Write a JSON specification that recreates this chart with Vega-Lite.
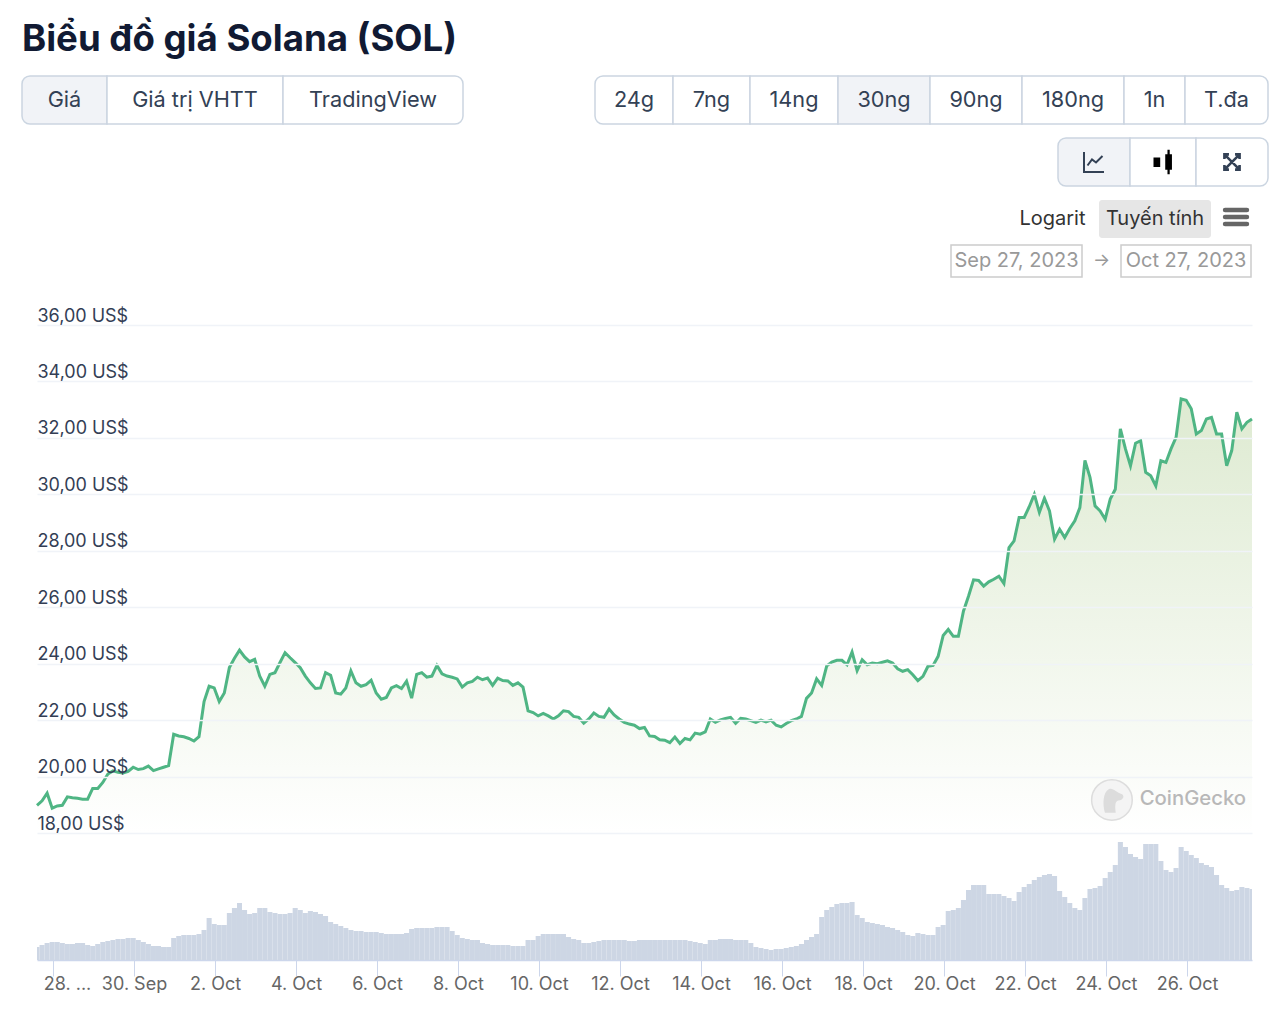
{"$schema":"https://vega.github.io/schema/vega-lite/v6.json","padding":{"left":21,"top":21,"right":0,"bottom":0},"background":"#ffffff","config":{"font":"Inter","view":{"stroke":null},"concat":{"spacing":0}},"title":{"text":"Biểu đồ giá Solana (SOL)","anchor":"start","frame":"group","fontSize":36.6,"fontWeight":700,"color":"#111a33","font":"Inter","offset":17},"spacing":0,"datasets":{"sol":[
{"t":"2023-09-27T14:30Z","p":18.98,"v":13},{"t":"2023-09-27T17:30Z","p":19.14,"v":15},{"t":"2023-09-27T20:30Z","p":19.41,"v":17},{"t":"2023-09-27T23:30Z","p":18.88,"v":18},
{"t":"2023-09-28T02:30Z","p":18.96,"v":18},{"t":"2023-09-28T05:30Z","p":18.98,"v":17},{"t":"2023-09-28T08:30Z","p":19.28,"v":16},{"t":"2023-09-28T11:30Z","p":19.25,"v":16},{"t":"2023-09-28T14:30Z","p":19.23,"v":17},{"t":"2023-09-28T17:30Z","p":19.2,"v":17},{"t":"2023-09-28T20:30Z","p":19.2,"v":15},{"t":"2023-09-28T23:30Z","p":19.58,"v":14},
{"t":"2023-09-29T02:30Z","p":19.58,"v":16},{"t":"2023-09-29T05:30Z","p":19.79,"v":18},{"t":"2023-09-29T08:30Z","p":20.09,"v":19},{"t":"2023-09-29T11:30Z","p":20.2,"v":20},{"t":"2023-09-29T14:30Z","p":20.15,"v":21},{"t":"2023-09-29T17:30Z","p":20.13,"v":21},{"t":"2023-09-29T20:30Z","p":20.18,"v":22},{"t":"2023-09-29T23:30Z","p":20.33,"v":22},
{"t":"2023-09-30T02:30Z","p":20.25,"v":20},{"t":"2023-09-30T05:30Z","p":20.28,"v":18},{"t":"2023-09-30T08:30Z","p":20.37,"v":16},{"t":"2023-09-30T11:30Z","p":20.21,"v":14},{"t":"2023-09-30T14:30Z","p":20.27,"v":14},{"t":"2023-09-30T17:30Z","p":20.33,"v":13},{"t":"2023-09-30T20:30Z","p":20.39,"v":13},{"t":"2023-09-30T23:30Z","p":21.5,"v":22},
{"t":"2023-10-01T02:30Z","p":21.44,"v":24},{"t":"2023-10-01T05:30Z","p":21.41,"v":25},{"t":"2023-10-01T08:30Z","p":21.35,"v":25},{"t":"2023-10-01T11:30Z","p":21.26,"v":25},{"t":"2023-10-01T14:30Z","p":21.41,"v":26},{"t":"2023-10-01T17:30Z","p":22.66,"v":30},{"t":"2023-10-01T20:30Z","p":23.2,"v":42},{"t":"2023-10-01T23:30Z","p":23.14,"v":36},
{"t":"2023-10-02T02:30Z","p":22.66,"v":35},{"t":"2023-10-02T05:30Z","p":22.96,"v":35},{"t":"2023-10-02T08:30Z","p":23.86,"v":47},{"t":"2023-10-02T11:30Z","p":24.19,"v":52},{"t":"2023-10-02T14:30Z","p":24.48,"v":57},{"t":"2023-10-02T17:30Z","p":24.24,"v":50},{"t":"2023-10-02T20:30Z","p":24.07,"v":46},{"t":"2023-10-02T23:30Z","p":24.15,"v":47},
{"t":"2023-10-03T02:30Z","p":23.56,"v":52},{"t":"2023-10-03T05:30Z","p":23.2,"v":52},{"t":"2023-10-03T08:30Z","p":23.62,"v":48},{"t":"2023-10-03T11:30Z","p":23.68,"v":47},{"t":"2023-10-03T14:30Z","p":24.04,"v":46},{"t":"2023-10-03T17:30Z","p":24.39,"v":46},{"t":"2023-10-03T20:30Z","p":24.21,"v":47},{"t":"2023-10-03T23:30Z","p":24.04,"v":52},
{"t":"2023-10-04T02:30Z","p":23.86,"v":50},{"t":"2023-10-04T05:30Z","p":23.56,"v":47},{"t":"2023-10-04T08:30Z","p":23.32,"v":49},{"t":"2023-10-04T11:30Z","p":23.12,"v":48},{"t":"2023-10-04T14:30Z","p":23.14,"v":46},{"t":"2023-10-04T17:30Z","p":23.68,"v":44},{"t":"2023-10-04T20:30Z","p":23.59,"v":38},{"t":"2023-10-04T23:30Z","p":22.96,"v":36},
{"t":"2023-10-05T02:30Z","p":22.92,"v":34},{"t":"2023-10-05T05:30Z","p":23.14,"v":32},{"t":"2023-10-05T08:30Z","p":23.74,"v":30},{"t":"2023-10-05T11:30Z","p":23.32,"v":29},{"t":"2023-10-05T14:30Z","p":23.2,"v":29},{"t":"2023-10-05T17:30Z","p":23.26,"v":28},{"t":"2023-10-05T20:30Z","p":23.41,"v":28},{"t":"2023-10-05T23:30Z","p":22.96,"v":28},
{"t":"2023-10-06T02:30Z","p":22.74,"v":27},{"t":"2023-10-06T05:30Z","p":22.8,"v":26},{"t":"2023-10-06T08:30Z","p":23.14,"v":26},{"t":"2023-10-06T11:30Z","p":23.22,"v":26},{"t":"2023-10-06T14:30Z","p":23.12,"v":26},{"t":"2023-10-06T17:30Z","p":23.38,"v":27},{"t":"2023-10-06T20:30Z","p":22.78,"v":31},{"t":"2023-10-06T23:30Z","p":23.62,"v":32},
{"t":"2023-10-07T02:30Z","p":23.68,"v":32},{"t":"2023-10-07T05:30Z","p":23.52,"v":32},{"t":"2023-10-07T08:30Z","p":23.56,"v":32},{"t":"2023-10-07T11:30Z","p":23.94,"v":33},{"t":"2023-10-07T14:30Z","p":23.64,"v":33},{"t":"2023-10-07T17:30Z","p":23.56,"v":33},{"t":"2023-10-07T20:30Z","p":23.52,"v":29},{"t":"2023-10-07T23:30Z","p":23.46,"v":25},
{"t":"2023-10-08T02:30Z","p":23.17,"v":22},{"t":"2023-10-08T05:30Z","p":23.32,"v":21},{"t":"2023-10-08T08:30Z","p":23.37,"v":20},{"t":"2023-10-08T11:30Z","p":23.52,"v":20},{"t":"2023-10-08T14:30Z","p":23.43,"v":17},{"t":"2023-10-08T17:30Z","p":23.49,"v":16},{"t":"2023-10-08T20:30Z","p":23.23,"v":15},{"t":"2023-10-08T23:30Z","p":23.49,"v":15},
{"t":"2023-10-09T02:30Z","p":23.4,"v":15},{"t":"2023-10-09T05:30Z","p":23.39,"v":15},{"t":"2023-10-09T08:30Z","p":23.23,"v":14},{"t":"2023-10-09T11:30Z","p":23.32,"v":14},{"t":"2023-10-09T14:30Z","p":23.17,"v":14},{"t":"2023-10-09T17:30Z","p":22.33,"v":20},{"t":"2023-10-09T20:30Z","p":22.27,"v":20},{"t":"2023-10-09T23:30Z","p":22.15,"v":24},
{"t":"2023-10-10T02:30Z","p":22.24,"v":26},{"t":"2023-10-10T05:30Z","p":22.15,"v":26},{"t":"2023-10-10T08:30Z","p":22.04,"v":26},{"t":"2023-10-10T11:30Z","p":22.15,"v":26},{"t":"2023-10-10T14:30Z","p":22.33,"v":26},{"t":"2023-10-10T17:30Z","p":22.3,"v":23},{"t":"2023-10-10T20:30Z","p":22.13,"v":21},{"t":"2023-10-10T23:30Z","p":22.1,"v":20},
{"t":"2023-10-11T02:30Z","p":21.89,"v":17},{"t":"2023-10-11T05:30Z","p":22.04,"v":17},{"t":"2023-10-11T08:30Z","p":22.25,"v":18},{"t":"2023-10-11T11:30Z","p":22.13,"v":19},{"t":"2023-10-11T14:30Z","p":22.1,"v":20},{"t":"2023-10-11T17:30Z","p":22.39,"v":20},{"t":"2023-10-11T20:30Z","p":22.18,"v":20},{"t":"2023-10-11T23:30Z","p":22.04,"v":20},
{"t":"2023-10-12T02:30Z","p":21.92,"v":20},{"t":"2023-10-12T05:30Z","p":21.86,"v":19},{"t":"2023-10-12T08:30Z","p":21.82,"v":19},{"t":"2023-10-12T11:30Z","p":21.7,"v":20},{"t":"2023-10-12T14:30Z","p":21.74,"v":20},{"t":"2023-10-12T17:30Z","p":21.44,"v":20},{"t":"2023-10-12T20:30Z","p":21.42,"v":20},{"t":"2023-10-12T23:30Z","p":21.3,"v":20},
{"t":"2023-10-13T02:30Z","p":21.29,"v":20},{"t":"2023-10-13T05:30Z","p":21.2,"v":20},{"t":"2023-10-13T08:30Z","p":21.4,"v":20},{"t":"2023-10-13T11:30Z","p":21.17,"v":20},{"t":"2023-10-13T14:30Z","p":21.35,"v":20},{"t":"2023-10-13T17:30Z","p":21.3,"v":19},{"t":"2023-10-13T20:30Z","p":21.54,"v":18},{"t":"2023-10-13T23:30Z","p":21.5,"v":17},
{"t":"2023-10-14T02:30Z","p":21.58,"v":16},{"t":"2023-10-14T05:30Z","p":22.04,"v":20},{"t":"2023-10-14T08:30Z","p":21.92,"v":20},{"t":"2023-10-14T11:30Z","p":22.01,"v":21},{"t":"2023-10-14T14:30Z","p":22.06,"v":21},{"t":"2023-10-14T17:30Z","p":22.1,"v":21},{"t":"2023-10-14T20:30Z","p":21.89,"v":20},{"t":"2023-10-14T23:30Z","p":22.06,"v":20},
{"t":"2023-10-15T02:30Z","p":22.04,"v":20},{"t":"2023-10-15T05:30Z","p":21.98,"v":17},{"t":"2023-10-15T08:30Z","p":21.92,"v":13},{"t":"2023-10-15T11:30Z","p":22.0,"v":12},{"t":"2023-10-15T14:30Z","p":21.94,"v":11},{"t":"2023-10-15T17:30Z","p":22.0,"v":10},{"t":"2023-10-15T20:30Z","p":21.82,"v":11},{"t":"2023-10-15T23:30Z","p":21.76,"v":11},
{"t":"2023-10-16T02:30Z","p":21.88,"v":12},{"t":"2023-10-16T05:30Z","p":21.98,"v":13},{"t":"2023-10-16T08:30Z","p":22.04,"v":14},{"t":"2023-10-16T11:30Z","p":22.13,"v":16},{"t":"2023-10-16T14:30Z","p":22.77,"v":20},{"t":"2023-10-16T17:30Z","p":22.96,"v":23},{"t":"2023-10-16T20:30Z","p":23.46,"v":26},{"t":"2023-10-16T23:30Z","p":23.23,"v":43},
{"t":"2023-10-17T02:30Z","p":23.92,"v":50},{"t":"2023-10-17T05:30Z","p":24.06,"v":53},{"t":"2023-10-17T08:30Z","p":24.12,"v":56},{"t":"2023-10-17T11:30Z","p":24.12,"v":57},{"t":"2023-10-17T14:30Z","p":23.96,"v":57},{"t":"2023-10-17T17:30Z","p":24.41,"v":58},{"t":"2023-10-17T20:30Z","p":23.75,"v":45},{"t":"2023-10-17T23:30Z","p":24.14,"v":42},
{"t":"2023-10-18T02:30Z","p":23.96,"v":38},{"t":"2023-10-18T05:30Z","p":24.02,"v":37},{"t":"2023-10-18T08:30Z","p":24.0,"v":36},{"t":"2023-10-18T11:30Z","p":24.05,"v":35},{"t":"2023-10-18T14:30Z","p":24.1,"v":33},{"t":"2023-10-18T17:30Z","p":24.02,"v":32},{"t":"2023-10-18T20:30Z","p":23.82,"v":30},{"t":"2023-10-18T23:30Z","p":23.73,"v":28},
{"t":"2023-10-19T02:30Z","p":23.79,"v":25},{"t":"2023-10-19T05:30Z","p":23.61,"v":24},{"t":"2023-10-19T08:30Z","p":23.4,"v":27},{"t":"2023-10-19T11:30Z","p":23.55,"v":26},{"t":"2023-10-19T14:30Z","p":23.91,"v":25},{"t":"2023-10-19T17:30Z","p":23.94,"v":25},{"t":"2023-10-19T20:30Z","p":24.26,"v":33},{"t":"2023-10-19T23:30Z","p":25.0,"v":35},
{"t":"2023-10-20T02:30Z","p":25.21,"v":49},{"t":"2023-10-20T05:30Z","p":24.97,"v":50},{"t":"2023-10-20T08:30Z","p":24.97,"v":52},{"t":"2023-10-20T11:30Z","p":25.86,"v":60},{"t":"2023-10-20T14:30Z","p":26.39,"v":70},{"t":"2023-10-20T17:30Z","p":26.97,"v":75},{"t":"2023-10-20T20:30Z","p":26.95,"v":75},{"t":"2023-10-20T23:30Z","p":26.75,"v":75},
{"t":"2023-10-21T02:30Z","p":26.9,"v":66},{"t":"2023-10-21T05:30Z","p":26.99,"v":66},{"t":"2023-10-21T08:30Z","p":27.1,"v":66},{"t":"2023-10-21T11:30Z","p":26.84,"v":64},{"t":"2023-10-21T14:30Z","p":28.11,"v":62},{"t":"2023-10-21T17:30Z","p":28.35,"v":59},{"t":"2023-10-21T20:30Z","p":29.18,"v":68},{"t":"2023-10-21T23:30Z","p":29.18,"v":73},
{"t":"2023-10-22T02:30Z","p":29.56,"v":76},{"t":"2023-10-22T05:30Z","p":30.0,"v":80},{"t":"2023-10-22T08:30Z","p":29.36,"v":83},{"t":"2023-10-22T11:30Z","p":29.86,"v":85},{"t":"2023-10-22T14:30Z","p":29.41,"v":86},{"t":"2023-10-22T17:30Z","p":28.41,"v":84},{"t":"2023-10-22T20:30Z","p":28.76,"v":69},{"t":"2023-10-22T23:30Z","p":28.47,"v":63},
{"t":"2023-10-23T02:30Z","p":28.79,"v":57},{"t":"2023-10-23T05:30Z","p":29.06,"v":52},{"t":"2023-10-23T08:30Z","p":29.53,"v":50},{"t":"2023-10-23T11:30Z","p":31.2,"v":62},{"t":"2023-10-23T14:30Z","p":30.6,"v":71},{"t":"2023-10-23T17:30Z","p":29.59,"v":72},{"t":"2023-10-23T20:30Z","p":29.41,"v":74},{"t":"2023-10-23T23:30Z","p":29.12,"v":82},
{"t":"2023-10-24T02:30Z","p":29.83,"v":88},{"t":"2023-10-24T05:30Z","p":30.18,"v":95},{"t":"2023-10-24T08:30Z","p":32.32,"v":118},{"t":"2023-10-24T11:30Z","p":31.61,"v":113},{"t":"2023-10-24T14:30Z","p":31.01,"v":106},{"t":"2023-10-24T17:30Z","p":31.81,"v":103},{"t":"2023-10-24T20:30Z","p":31.9,"v":101},{"t":"2023-10-24T23:30Z","p":30.78,"v":116},
{"t":"2023-10-25T02:30Z","p":30.66,"v":116},{"t":"2023-10-25T05:30Z","p":30.3,"v":116},{"t":"2023-10-25T08:30Z","p":31.19,"v":99},{"t":"2023-10-25T11:30Z","p":31.13,"v":90},{"t":"2023-10-25T14:30Z","p":31.61,"v":88},{"t":"2023-10-25T17:30Z","p":32.02,"v":92},{"t":"2023-10-25T20:30Z","p":33.38,"v":113},{"t":"2023-10-25T23:30Z","p":33.33,"v":109},
{"t":"2023-10-26T02:30Z","p":33.03,"v":105},{"t":"2023-10-26T05:30Z","p":32.14,"v":102},{"t":"2023-10-26T08:30Z","p":32.26,"v":97},{"t":"2023-10-26T11:30Z","p":32.67,"v":95},{"t":"2023-10-26T14:30Z","p":32.73,"v":93},{"t":"2023-10-26T17:30Z","p":32.14,"v":85},{"t":"2023-10-26T20:30Z","p":32.14,"v":75},{"t":"2023-10-26T23:30Z","p":31.01,"v":72},
{"t":"2023-10-27T02:30Z","p":31.55,"v":69},{"t":"2023-10-27T05:30Z","p":32.91,"v":70},{"t":"2023-10-27T08:30Z","p":32.32,"v":73},{"t":"2023-10-27T11:30Z","p":32.55,"v":72},{"t":"2023-10-27T14:30Z","p":32.67,"v":71}
]},
"vconcat":[
{"hconcat":[
{"width":85,"height":48,"data":{"values":[{"label":"Giá"}]},"layer":[{"mark":{"type":"rect","fill":"#f1f3f7","stroke":"#cbd5e1","strokeWidth":1.5,"cornerRadiusTopLeft":8,"cornerRadiusBottomLeft":8}},{"mark":{"type":"text","fontSize":21.7,"color":"#334155"},"encoding":{"text":{"field":"label"}}}]},
{"width":176,"height":48,"data":{"values":[{"label":"Giá trị VHTT"}]},"layer":[{"mark":{"type":"rect","fill":"#ffffff","stroke":"#cbd5e1","strokeWidth":1.5}},{"mark":{"type":"text","fontSize":21.7,"color":"#334155"},"encoding":{"text":{"field":"label"}}}]},
{"width":180,"height":48,"data":{"values":[{"label":"TradingView"}]},"layer":[{"mark":{"type":"rect","fill":"#ffffff","stroke":"#cbd5e1","strokeWidth":1.5,"cornerRadiusTopRight":8,"cornerRadiusBottomRight":8}},{"mark":{"type":"text","fontSize":21.7,"color":"#334155"},"encoding":{"text":{"field":"label"}}}]},
{"width":132,"height":48,"data":{"values":[{"label":""}]},"mark":{"type":"text","opacity":0},"encoding":{"text":{"field":"label"}}},
{"width":78,"height":48,"data":{"values":[{"label":"24g"}]},"layer":[{"mark":{"type":"rect","fill":"#ffffff","stroke":"#cbd5e1","strokeWidth":1.5,"cornerRadiusTopLeft":8,"cornerRadiusBottomLeft":8}},{"mark":{"type":"text","fontSize":21.7,"color":"#334155"},"encoding":{"text":{"field":"label"}}}]},
{"width":77,"height":48,"data":{"values":[{"label":"7ng"}]},"layer":[{"mark":{"type":"rect","fill":"#ffffff","stroke":"#cbd5e1","strokeWidth":1.5}},{"mark":{"type":"text","fontSize":21.7,"color":"#334155"},"encoding":{"text":{"field":"label"}}}]},
{"width":88,"height":48,"data":{"values":[{"label":"14ng"}]},"layer":[{"mark":{"type":"rect","fill":"#ffffff","stroke":"#cbd5e1","strokeWidth":1.5}},{"mark":{"type":"text","fontSize":21.7,"color":"#334155"},"encoding":{"text":{"field":"label"}}}]},
{"width":92,"height":48,"data":{"values":[{"label":"30ng"}]},"layer":[{"mark":{"type":"rect","fill":"#f1f3f7","stroke":"#cbd5e1","strokeWidth":1.5}},{"mark":{"type":"text","fontSize":21.7,"color":"#334155"},"encoding":{"text":{"field":"label"}}}]},
{"width":92,"height":48,"data":{"values":[{"label":"90ng"}]},"layer":[{"mark":{"type":"rect","fill":"#ffffff","stroke":"#cbd5e1","strokeWidth":1.5}},{"mark":{"type":"text","fontSize":21.7,"color":"#334155"},"encoding":{"text":{"field":"label"}}}]},
{"width":102,"height":48,"data":{"values":[{"label":"180ng"}]},"layer":[{"mark":{"type":"rect","fill":"#ffffff","stroke":"#cbd5e1","strokeWidth":1.5}},{"mark":{"type":"text","fontSize":21.7,"color":"#334155"},"encoding":{"text":{"field":"label"}}}]},
{"width":61,"height":48,"data":{"values":[{"label":"1n"}]},"layer":[{"mark":{"type":"rect","fill":"#ffffff","stroke":"#cbd5e1","strokeWidth":1.5}},{"mark":{"type":"text","fontSize":21.7,"color":"#334155"},"encoding":{"text":{"field":"label"}}}]},
{"width":83,"height":48,"data":{"values":[{"label":"T.đa"}]},"layer":[{"mark":{"type":"rect","fill":"#ffffff","stroke":"#cbd5e1","strokeWidth":1.5,"cornerRadiusTopRight":8,"cornerRadiusBottomRight":8}},{"mark":{"type":"text","fontSize":21.7,"color":"#334155"},"encoding":{"text":{"field":"label"}}}]}
],"spacing":0,"bounds":"flush"},
{"width":1,"height":12,"data":{"values":[{"label":""}]},"mark":{"type":"text","opacity":0},"encoding":{"text":{"field":"label"}}},
{"hconcat":[
{"width":1036,"height":48,"data":{"values":[{"label":""}]},"mark":{"type":"text","opacity":0},"encoding":{"text":{"field":"label"}}},
{"width":72,"height":48,"data":{"values":[{"icon":"line"}]},"layer":[{"mark":{"type":"rect","fill":"#f1f3f7","stroke":"#cbd5e1","strokeWidth":1.5,"cornerRadiusTopLeft":8,"cornerRadiusBottomLeft":8}},{"mark":{"type":"point","shape":"M-1 -1L-1 1L1 1M-.65 .35L-.2 -.25L.2 .05L.85 -.6","filled":false,"stroke":"#334155","strokeWidth":2,"size":400,"opacity":1}}]},
{"width":66,"height":48,"data":{"values":[{"icon":"candlestick"}]},"layer":[{"mark":{"type":"rect","fill":"#ffffff","stroke":"#cbd5e1","strokeWidth":1.5}},{"mark":{"type":"point","shape":"M-.85 -.4H-.25V.45H-.85ZM.2 -.7H.8V.7H.2ZM.4 -1.1H.6V1.1H.4Z","filled":true,"fill":"#000000","size":500,"opacity":1}}]},
{"width":72,"height":48,"data":{"values":[{"icon":"expand"}]},"layer":[{"mark":{"type":"rect","fill":"#ffffff","stroke":"#cbd5e1","strokeWidth":1.5,"cornerRadiusTopRight":8,"cornerRadiusBottomRight":8}},{"mark":{"type":"point","shape":"M-1 -.4V-1H-.4M.4 -1H1V-.4M1 .4V1H.4M-.4 1H-1V.4M-.9 -.9L.9 .9M.9 -.9L-.9 .9","filled":false,"stroke":"#334155","strokeWidth":2.6,"size":230,"opacity":1}}]}
],"spacing":0,"bounds":"flush"},
{"width":1,"height":13,"data":{"values":[{"label":""}]},"mark":{"type":"text","opacity":0},"encoding":{"text":{"field":"label"}}},
{"hconcat":[
{"width":998,"height":38,"data":{"values":[{"label":""}]},"mark":{"type":"text","opacity":0},"encoding":{"text":{"field":"label"}}},
{"width":65,"height":38,"data":{"values":[{"label":"Logarit"}]},"mark":{"type":"text","fontSize":20,"color":"#333333"},"encoding":{"text":{"field":"label"}}},
{"width":14,"height":38,"data":{"values":[{"label":""}]},"mark":{"type":"text","opacity":0},"encoding":{"text":{"field":"label"}}},
{"width":112,"height":38,"data":{"values":[{"label":"Tuyến tính"}]},"layer":[{"mark":{"type":"rect","fill":"#e6e6e6","cornerRadius":3}},{"mark":{"type":"text","fontSize":20,"color":"#333333"},"encoding":{"text":{"field":"label"}}}]},
{"width":11,"height":38,"data":{"values":[{"label":""}]},"mark":{"type":"text","opacity":0},"encoding":{"text":{"field":"label"}}},
{"width":28,"height":34,"data":{"values":[{"icon":"menu"}]},"mark":{"type":"point","shape":"M-1 -.65H1M-1 0H1M-1 .65H1","filled":false,"stroke":"#666666","strokeWidth":4.5,"strokeCap":"round","size":480,"opacity":1}}
],"spacing":0,"bounds":"flush"},
{"width":1,"height":6,"data":{"values":[{"label":""}]},"mark":{"type":"text","opacity":0,"fontSize":1},"encoding":{"text":{"field":"label"}}},
{"hconcat":[
{"width":929,"height":32,"data":{"values":[{"label":""}]},"mark":{"type":"text","opacity":0},"encoding":{"text":{"field":"label"}}},
{"width":131,"height":32,"data":{"values":[{"label":"Sep 27, 2023"}]},"layer":[{"mark":{"type":"rect","fill":"#ffffff","stroke":"#cccccc","strokeWidth":1.5}},{"mark":{"type":"text","fontSize":20,"color":"#999999"},"encoding":{"text":{"field":"label"}}}]},
{"width":39,"height":32,"data":{"values":[{"label":"→"}]},"mark":{"type":"text","fontSize":18,"color":"#999999"},"encoding":{"text":{"field":"label"}}},
{"width":130,"height":32,"data":{"values":[{"label":"Oct 27, 2023"}]},"layer":[{"mark":{"type":"rect","fill":"#ffffff","stroke":"#cccccc","strokeWidth":1.5}},{"mark":{"type":"text","fontSize":20,"color":"#999999"},"encoding":{"text":{"field":"label"}}}]}
],"spacing":0,"bounds":"flush"},
{"width":1,"height":28.5,"data":{"values":[{"label":""}]},"mark":{"type":"text","opacity":0},"encoding":{"text":{"field":"label"}}},
{"hconcat":[
{"width":15,"height":635,"data":{"values":[{"label":""}]},"mark":{"type":"text","opacity":0},"encoding":{"text":{"field":"label"}}},
{"width":1215,"height":635,"data":{"name":"sol"},"resolve":{"scale":{"y":"independent"}},"layer":[
{"mark":{"type":"bar","size":5.06,"color":"#cdd6e4","clip":true},"encoding":{"x":{"field":"t","type":"temporal","title":null,"scale":{"type":"utc","nice":false,"padding":0,"domain":[{"year":2023,"month":"sep","date":27,"hours":14,"minutes":30,"utc":true},{"year":2023,"month":"oct","date":27,"hours":14,"minutes":30,"utc":true}]},"axis":{"values":[{"year":2023,"month":"sep","date":28,"utc":true},{"year":2023,"month":"sep","date":30,"utc":true},{"year":2023,"month":"oct","date":2,"utc":true},{"year":2023,"month":"oct","date":4,"utc":true},{"year":2023,"month":"oct","date":6,"utc":true},{"year":2023,"month":"oct","date":8,"utc":true},{"year":2023,"month":"oct","date":10,"utc":true},{"year":2023,"month":"oct","date":12,"utc":true},{"year":2023,"month":"oct","date":14,"utc":true},{"year":2023,"month":"oct","date":16,"utc":true},{"year":2023,"month":"oct","date":18,"utc":true},{"year":2023,"month":"oct","date":20,"utc":true},{"year":2023,"month":"oct","date":22,"utc":true},{"year":2023,"month":"oct","date":24,"utc":true},{"year":2023,"month":"oct","date":26,"utc":true}],"labelExpr":"utcdate(datum.value)==28?'28. ...':utcdate(datum.value)+'. '+utcFormat(datum.value,'%b')","labelFontSize":18,"labelColor":"#666666","labelFont":"Inter","labelPadding":-1,"labelAlign":"center","labelFlush":false,"labelOverlap":false,"labelOffset":{"condition":{"test":"utcdate(datum.value)==28","value":14},"value":0},"tickSize":16,"tickColor":"#ccd6eb","tickWidth":1,"domainColor":"#ccd6eb","domainWidth":1.5,"grid":false}},"y":{"field":"v","type":"quantitative","axis":null,"scale":{"domain":[0,118],"range":[635,517],"nice":false}}}},
{"mark":{"type":"area","color":{"x1":0,"y1":0,"x2":0,"y2":1,"gradient":"linear","stops":[{"offset":0,"color":"#dae8cc"},{"offset":1,"color":"#ffffff"}]},"opacity":0.9},"encoding":{"x":{"field":"t","type":"temporal"},"y":{"field":"p","type":"quantitative","title":null,"scale":{"domain":[18,36],"range":[508,0],"nice":false,"zero":false},"axis":{"values":[18,20,22,24,26,28,30,32,34,36],"labelExpr":"replace(format(datum.value,'.2f'),'.',',')+' US$'","orient":"left","labelAlign":"left","labelPadding":0,"labelOffset":-9,"ticks":false,"tickSize":0,"domain":false,"labelFontSize":18,"labelColor":"#333e55","labelFont":"Inter","gridColor":"#f0f3f8","gridWidth":1.5,"grid":true,"labelOverlap":false,"labelFlush":false,"zindex":1}},"y2":{"datum":18}}},
{"mark":{"type":"line","color":"#4fb584","strokeWidth":3,"interpolate":"linear"},"encoding":{"x":{"field":"t","type":"temporal"},"y":{"field":"p","type":"quantitative","axis":null,"scale":{"domain":[18,36],"range":[508,0],"nice":false,"zero":false}}}},
{"data":{"values":[{"t":"2023-10-24T03:30Z","p":19.17}]},"mark":{"type":"point","shape":"circle","filled":true,"fill":"#f4f4f4","stroke":"#dddddd","strokeWidth":1.5,"size":1650,"opacity":1},"encoding":{"x":{"field":"t","type":"temporal"},"y":{"field":"p","type":"quantitative","axis":null,"scale":{"domain":[18,36],"range":[508,0],"nice":false,"zero":false}}}},
{"data":{"values":[{"t":"2023-10-24T03:30Z","p":19.17}]},"mark":{"type":"point","shape":"M-.55 1C-.75 .3 -.7 -.6 -.25 -.85C.1 -1 .3 -.6 .8 -.45C1 -.3 .9 0 .5 .05C.2 .1 .25 .6 .3 1Z","filled":true,"fill":"#dcdcdc","strokeWidth":0,"size":650,"opacity":1},"encoding":{"x":{"field":"t","type":"temporal"},"y":{"field":"p","type":"quantitative","axis":null,"scale":{"domain":[18,36],"range":[508,0],"nice":false,"zero":false}}}},
{"data":{"values":[{"t":"2023-10-27T11:00Z","p":19.22,"label":"CoinGecko"}]},"mark":{"type":"text","align":"right","fontSize":20.3,"fontWeight":500,"color":"#b8b8b8"},"encoding":{"text":{"field":"label"},"x":{"field":"t","type":"temporal"},"y":{"field":"p","type":"quantitative","axis":null,"scale":{"domain":[18,36],"range":[508,0],"nice":false,"zero":false}}}}
]}
],"spacing":0,"bounds":"flush"}
]}
